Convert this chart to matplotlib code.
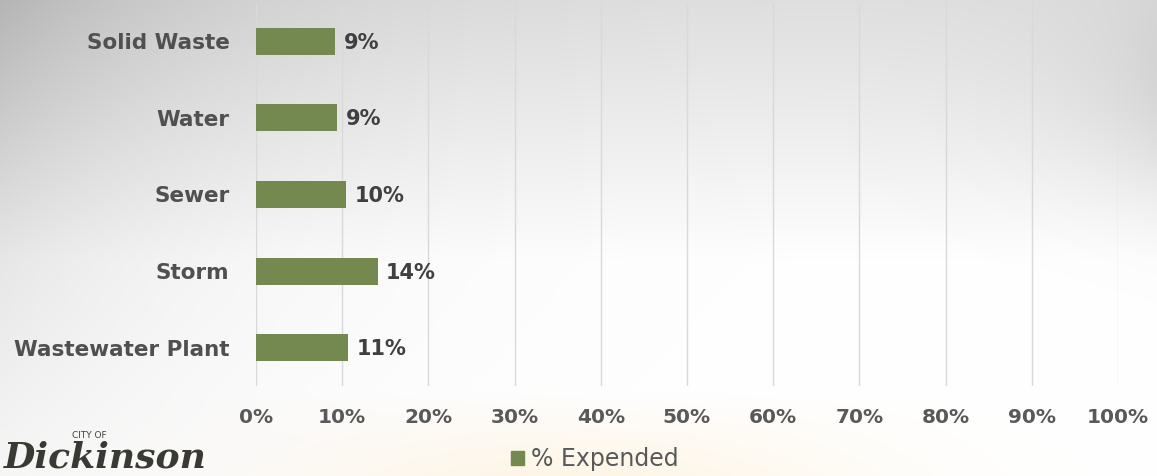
import numpy as np
import matplotlib
matplotlib.use("Agg")
import matplotlib.pyplot as plt

categories = ["Solid Waste", "Water", "Sewer", "Storm", "Wastewater Plant"]
expended = [0.092, 0.094, 0.104, 0.141, 0.107]
value_labels = ["9%", "9%", "10%", "14%", "11%"]
ticks = [0, 0.1, 0.2, 0.3, 0.4, 0.5, 0.6, 0.7, 0.8, 0.9, 1.0]
tick_labels = ["0%", "10%", "20%", "30%", "40%", "50%", "60%", "70%", "80%", "90%", "100%"]

W, H = 1157, 476
BAR = "#738950"
fig = plt.figure(figsize=(W / 100, H / 100), dpi=100)

# background: grey vignette top/left, white middle, warm tone at the bottom
bg = fig.add_axes([0, 0, 1, 1])
yy, xx = np.mgrid[0:1:240j, 0:1:480j]
shade = (0.17 * np.exp(-xx / 0.2) * np.clip(1 - yy * 0.8, 0, 1)
         + 0.12 * np.clip(1 - yy / 0.55, 0, 1)
         + 0.08 * np.exp(-(1 - xx) / 0.09) * np.exp(-((yy - 0.2) ** 2) / 0.06))
warm = np.clip((yy - 0.82) / 0.18, 0, 1) * np.exp(-((xx - 0.5) ** 2) / 0.06)
img = np.ones((240, 480, 3))
for c, w in enumerate([0.0, 0.035, 0.09]):
    img[..., c] = 1 - shade - warm * w
bg.imshow(np.clip(img, 0, 1), extent=[0, 1, 0, 1], aspect="auto", origin="upper")
bg.set_axis_off()

ax = fig.add_axes([256 / W, 1 - 386 / H, (1118 - 256) / W, 383 / H])
ax.patch.set_alpha(0)
y = np.arange(len(categories))
ax.barh(y, expended, height=0.35, color=BAR, zorder=3)
for yi, v, lab in zip(y, expended, value_labels):
    ax.text(v + 0.010, yi + 0.02, lab, va="center", ha="left", fontsize=15,
            fontweight="bold", color="#404040")
ax.set_ylim(len(categories) - 0.5, -0.5)
ax.set_xlim(0, 1)
ax.set_yticks(y)
ax.set_yticklabels(categories, fontsize=15.5, fontweight="bold", color="#505050")
ax.set_xticks(ticks)
ax.set_xticklabels(tick_labels, fontsize=14.5, fontweight="bold", color="#595959")
ax.tick_params(axis="y", length=0, pad=19)
ax.tick_params(axis="x", length=0, pad=16)
ax.grid(axis="x", color="#d9d9d9", linewidth=1, zorder=0)
for s in ax.spines.values():
    s.set_visible(False)

fig.legend([plt.Rectangle((0, 0), 1, 1, color=BAR)], ["% Expended"],
           loc="center left", bbox_to_anchor=(490 / W, 1 - 459 / H), frameon=False,
           fontsize=17, handlelength=0.55, handleheight=0.55, handletextpad=0.3,
           labelcolor="#595959")

# logo
fig.text(72 / W, 1 - 436 / H, "CITY OF", fontsize=6.5, color="#404040",
         ha="left", va="center")
fig.text(4 / W, 9 / H, "Dickinson", fontsize=26, color="#3a3a35",
         family="DejaVu Serif", style="italic", fontweight="bold",
         ha="left", va="baseline")

fig.savefig("out.png", dpi=100)
